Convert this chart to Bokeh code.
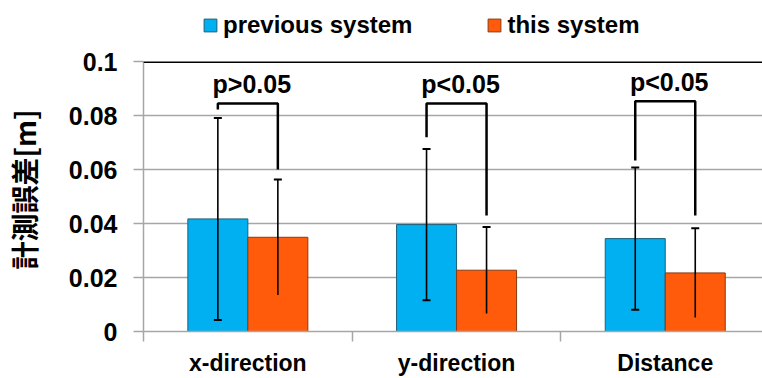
import numpy as np
from bokeh.plotting import figure
from bokeh.layouts import column
from bokeh.models import (ColumnDataSource, Range1d, FixedTicker, CustomJSTickFormatter,
                          Whisker, TeeHead, Legend, LegendItem, Span)
from bokeh.core.properties import value
from bokeh.embed import file_html
from bokeh.resources import INLINE

# ---- data ----
categories = ["x-direction", "y-direction", "Distance"]
series_names = ["previous system", "this system"]
previous_mean = [0.0417, 0.0396, 0.0344]
previous_sd = [0.0374, 0.0280, 0.0263]
this_mean = [0.0349, 0.0227, 0.0217]
this_sd = [0.0214, 0.0160, 0.0165]
p_labels = ["p>0.05", "p<0.05", "p<0.05"]
bracket_top = [0.0844, 0.0844, 0.0853]
bracket_left_end = [0.0822, 0.0719, 0.0633]
bracket_right_end = [0.0600, 0.0430, 0.0430]
y_ticks = [0, 0.02, 0.04, 0.06, 0.08, 0.1]
y_title = "計測誤差[m]"

FONT = "Liberation Sans"
BLUE = "#00B0F0"
ORANGE = "#FF5B0A"
BLUE_EDGE = "#1F5F7A"
ORANGE_EDGE = "#8A3A10"
GRID = "#A6A6A6"
LEG_H = 40

n = len(categories)
centers = np.arange(n) + 0.5
bar_w = 0.2875
off = bar_w / 2

prev_x = centers - off
this_x = centers + off

src_prev = ColumnDataSource(dict(
    x=prev_x, top=previous_mean,
    upper=np.array(previous_mean) + np.array(previous_sd),
    lower=np.array(previous_mean) - np.array(previous_sd)))
src_this = ColumnDataSource(dict(
    x=this_x, top=this_mean,
    upper=np.array(this_mean) + np.array(this_sd),
    lower=np.array(this_mean) - np.array(this_sd)))

p = figure(width=762, height=378 - LEG_H, x_range=Range1d(0, 2.966), y_range=Range1d(0, 0.1),
           output_backend="svg", toolbar_location=None,
           min_border_left=143, min_border_top=61 - LEG_H, min_border_right=0, min_border_bottom=0)
p.outline_line_color = None
p.background_fill_color = "white"

# grid (top line at 0.1 drawn separately in black)
p.xgrid.grid_line_color = None
p.ygrid.grid_line_color = GRID
p.ygrid.grid_line_width = 1.5
p.ygrid.ticker = FixedTicker(ticks=y_ticks[:-1])

# y axis
p.yaxis.ticker = FixedTicker(ticks=y_ticks)
p.yaxis.formatter = CustomJSTickFormatter(code="return (+tick.toFixed(2)).toString();")
p.yaxis.axis_line_color = GRID
p.yaxis.axis_line_width = 1.5
p.yaxis.major_tick_line_color = GRID
p.yaxis.major_tick_line_width = 1.5
p.yaxis.major_tick_out = 10
p.yaxis.major_tick_in = 0
p.yaxis.minor_tick_line_color = None
p.yaxis.major_label_text_font = FONT
p.yaxis.major_label_text_font_style = "bold"
p.yaxis.major_label_text_font_size = "25px"
p.yaxis.major_label_text_color = "black"
p.yaxis.major_label_standoff = 16
p.yaxis.axis_label = "\u2002" + y_title
p.yaxis.axis_label_text_font = "Noto Sans CJK JP"
p.yaxis.axis_label_text_font_style = "bold"
p.yaxis.axis_label_text_font_size = "28px"
p.yaxis.axis_label_text_color = "black"
p.yaxis.axis_label_standoff = 22

# x axis
p.xaxis.ticker = FixedTicker(ticks=list(centers), minor_ticks=list(range(n + 1)))
p.xaxis.formatter = CustomJSTickFormatter(args=dict(labels=categories),
                                          code="return labels[Math.floor(tick)];")
p.xaxis.axis_line_color = GRID
p.xaxis.axis_line_width = 1.5
p.xaxis.major_tick_line_color = None
p.xaxis.major_tick_out = 0
p.xaxis.major_tick_in = 0
p.xaxis.minor_tick_line_color = GRID
p.xaxis.minor_tick_line_width = 1.5
p.xaxis.minor_tick_out = 10
p.xaxis.minor_tick_in = 0
p.xaxis.major_label_text_font = FONT
p.xaxis.major_label_text_font_style = "bold"
p.xaxis.major_label_text_font_size = "23px"
p.xaxis.major_label_text_color = "black"
p.xaxis.major_label_standoff = 8

# bars
p.vbar(x="x", top="top", width=bar_w, source=src_prev,
       fill_color=BLUE, line_color=BLUE_EDGE, line_width=1)
p.vbar(x="x", top="top", width=bar_w, source=src_this,
       fill_color=ORANGE, line_color=ORANGE_EDGE, line_width=1)

# error bars
w_prev = Whisker(base="x", upper="upper", lower="lower", source=src_prev,
                 line_color="black", line_width=1.6, level="overlay",
                 upper_head=TeeHead(size=8, line_width=2, line_color="black"),
                 lower_head=TeeHead(size=8, line_width=2, line_color="black"))
w_this = Whisker(base="x", upper="upper", lower="lower", source=src_this,
                 line_color="black", line_width=1.6, level="overlay",
                 upper_head=TeeHead(size=8, line_width=2, line_color="black"),
                 lower_head=None)
p.add_layout(w_prev)
p.add_layout(w_this)

# top line at 0.1
p.add_layout(Span(location=y_ticks[-1], dimension="width", line_color="black",
                  line_width=3, level="overlay"))

# significance brackets
bx = [[lx, lx, rx, rx] for lx, rx in zip(prev_x, this_x)]
by = [[le, t, t, re] for le, t, re in zip(bracket_left_end, bracket_top, bracket_right_end)]
p.multi_line(xs=bx, ys=by, line_color="black", line_width=2.5)

p.text(x=centers, y=np.array(bracket_top) + 0.002, text=p_labels,
       text_font=value(FONT), text_font_style="bold", text_font_size="25px",
       text_align="center", text_baseline="bottom", text_color="black", x_offset=4)

# legend strip (separate figure so the legend is not clipped by the plot frame);
# its bars use the same sources but lie outside this strip's visible y range.
lg = figure(width=762, height=LEG_H, x_range=Range1d(0, 2.966), y_range=Range1d(1, 2),
            x_axis_type=None, y_axis_type=None, output_backend="svg",
            toolbar_location=None, min_border=0)
lg.outline_line_color = None
lg.xgrid.visible = False
lg.ygrid.visible = False
lr_prev = lg.vbar(x="x", top="top", width=bar_w, source=src_prev,
                  fill_color=BLUE, line_color=BLUE_EDGE, line_width=1)
lr_this = lg.vbar(x="x", top="top", width=bar_w, source=src_this,
                  fill_color=ORANGE, line_color=ORANGE_EDGE, line_width=1)
legend = Legend(items=[LegendItem(label=series_names[0], renderers=[lr_prev]),
                       LegendItem(label=series_names[1], renderers=[lr_this])],
                orientation="horizontal", location=(59, 1),
                glyph_width=16, glyph_height=16, label_standoff=5, spacing=74,
                padding=2, margin=0, border_line_color=None, background_fill_alpha=0,
                label_text_font=FONT, label_text_font_style="bold",
                label_text_font_size="24px", label_text_color="black")
lg.add_layout(legend)

layout = column(lg, p, spacing=0)
open("out.html", "w").write(file_html(layout, INLINE))
